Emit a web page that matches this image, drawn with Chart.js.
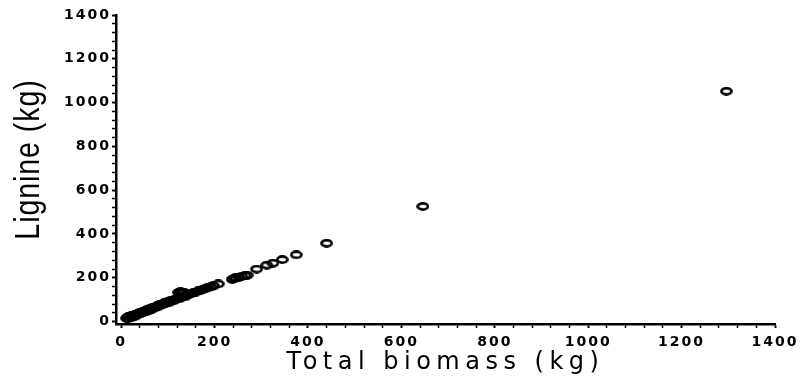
<!DOCTYPE html>
<html>
<head>
<meta charset="utf-8">
<script src="https://cdn.jsdelivr.net/npm/chart.js@4.4.1/dist/chart.umd.min.js"></script>
<style>
html,body{margin:0;padding:0;background:#fff;}
canvas{display:block;}
</style>
</head>
<body>
<canvas id="c" width="805" height="381"></canvas>
<script>
// ---- data ----
const biomass = [12,14,15,16,17,18,19,20,21,22,23,24,25,26,27,28,29,30,32,33,35,36,38,40,42,44,45,47,49,50,52,54,56,58,60,62,64,66,68,70,72,75,78,80,83,85,88,90,93,95,98,100,103,106,110,113,116,120,124,128,132,136,140,145,150,155,160,165,170,175,
  123,127,131,135,
  180,185,192,198,208,238,242,245,252,258,265,270,290,312,325,345,375,440,646,1296];
const lignine = [15,20,14,22,17,24,19,23,18,26,21,28,24,27,22,30,26,31,29,34,32,37,35,40,37,43,40,46,44,48,50,47,53,55,52,58,60,57,63,66,63,69,72,70,76,79,77,82,85,83,89,91,88,95,98,96,103,106,104,112,115,113,120,124,128,132,135,140,143,147,
  133,137,135,133,
  150,154,158,163,172,193,197,200,203,207,210,212,240,258,267,283,305,358,526,1052];
const xTickLabels = [0,200,400,600,800,1000,1200,1400];
const yTickLabels = [0,200,400,600,800,1000,1200,1400];
const minorStep = 40;
const xTitle = 'Total biomass (kg)';
const yTitle = 'Lignine (kg)';

// ---- marker: hollow flattened ring ----
const marker = document.createElement('canvas');
marker.width = 13; marker.height = 9;
(function(){
  const m = marker.getContext('2d');
  m.strokeStyle = '#000';
  m.lineWidth = 2.6;
  m.beginPath();
  m.ellipse(6.5, 4.5, 5.1, 3.1, 0, 0, Math.PI * 2);
  m.stroke();
})();

const points = biomass.map((b, i) => ({x: b, y: lignine[i]}));

function buildTicks(labels){
  return function(scale){
    const last = labels[labels.length - 1];
    const t = [];
    for (let v = labels[0]; v <= last; v += minorStep) t.push({value: v});
    scale.ticks = t;
  };
}

const TICK_SPACING = '2px';
const spacingPlugin = {
  id: 'spacing',
  beforeUpdate(chart){ chart.ctx.letterSpacing = TICK_SPACING; },
  beforeLayout(chart){ chart.ctx.letterSpacing = TICK_SPACING; },
  beforeDraw(chart){ chart.ctx.letterSpacing = TICK_SPACING; },
  afterLayout(chart){
    ['x','y'].forEach(id => {
      const s = chart.scales[id];
      if (s && !s._ttlPatched) {
        const orig = s.drawTitle.bind(s);
        s.drawTitle = function(){
          const c = this.ctx;
          const prev = c.letterSpacing;
          c.save();
          if (id === 'x') {
            c.letterSpacing = '5.5px';
            orig();
          } else {
            // condensed, tall lettering for the vertical title
            c.letterSpacing = '1px';
            c.translate(0, -10);
            const ft = c.fillText;
            c.fillText = function(txt, x, y, mw){
              this.save();
              this.scale(0.95, 1.15);
              ft.call(this, txt, x / 0.95, y / 1.15);
              this.restore();
            };
            orig();
            delete c.fillText;
          }
          c.restore();
          c.letterSpacing = prev;
        };
        s._ttlPatched = true;
      }
    });
  }
};

const tickFont = {family: 'DejaVu Sans', size: 14, weight: 'bold'};

new Chart(document.getElementById('c'), {
  type: 'scatter',
  data: {
    datasets: [{
      data: points,
      pointStyle: marker,
      pointRadius: 5,
      borderColor: '#000',
      backgroundColor: 'rgba(0,0,0,0)'
    }]
  },
  plugins: [spacingPlugin],
  options: {
    responsive: false,
    animation: false,
    events: [],
    layout: {padding: {top: 15, right: 30, bottom: 0, left: 0}},
    plugins: {legend: {display: false}, tooltip: {enabled: false}},
    scales: {
      x: {
        type: 'linear',
        min: -11,
        max: 1400,
        afterBuildTicks: buildTicks(xTickLabels),
        afterFit(scale){ scale.height = 57; },
        ticks: {
          autoSkip: false,
          maxRotation: 0,
          padding: 6,
          color: '#000',
          font: tickFont,
          callback: v => xTickLabels.includes(v) ? String(v) : ''
        },
        grid: {
          drawOnChartArea: false,
          drawTicks: true,
          tickLength: 4,
          tickColor: '#000',
          tickWidth: ctx => (ctx.tick && xTickLabels.includes(ctx.tick.value)) ? 2 : 1.5
        },
        border: {display: true, color: '#000', width: 2.5},
        title: {
          display: true,
          text: xTitle,
          color: '#000',
          font: {family: 'DejaVu Sans', size: 24, weight: 'normal'},
          padding: {top: 0, bottom: 4}
        }
      },
      y: {
        type: 'linear',
        min: -11,
        max: 1400,
        afterBuildTicks: buildTicks(yTickLabels),
        afterFit(scale){ scale.width = 116; },
        ticks: {
          autoSkip: false,
          padding: 1,
          color: '#000',
          font: tickFont,
          callback: v => yTickLabels.includes(v) ? String(v) : ''
        },
        grid: {
          drawOnChartArea: false,
          drawTicks: true,
          tickLength: 4,
          tickColor: '#000',
          tickWidth: ctx => (ctx.tick && yTickLabels.includes(ctx.tick.value)) ? 2 : 1.5
        },
        border: {display: true, color: '#000', width: 2.5},
        title: {
          display: true,
          text: yTitle,
          color: '#000',
          font: {family: 'Liberation Sans', size: 30, weight: 'normal'},
          padding: {top: 11, bottom: 0}
        }
      }
    }
  }
});
</script>
</body>
</html>
